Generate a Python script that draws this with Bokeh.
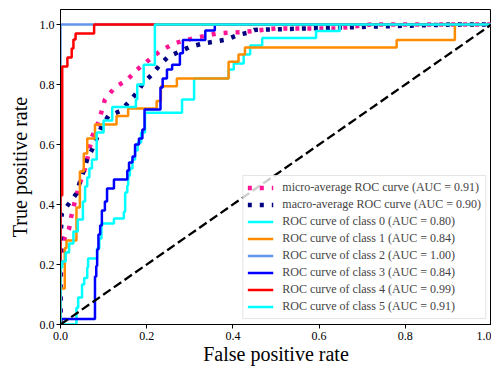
import math
from bokeh.plotting import figure
from bokeh.models import Range1d, FixedTicker, Legend, LegendItem, PrintfTickFormatter
from bokeh.embed import file_html
from bokeh.resources import INLINE

FONT = "Liberation Serif"

# ---- data ----
tick_values = [0.0, 0.2, 0.4, 0.6, 0.8, 1.0]

micro_fpr = [0, 0, 0.004, 0.01, 0.02, 0.025, 0.035, 0.046, 0.057, 0.065, 0.073, 0.089, 0.103,
             0.126, 0.155, 0.178, 0.2, 0.23, 0.263, 0.308, 0.363, 0.432, 0.5, 0.64, 0.72, 1.0]
micro_tpr = [0, 0.13, 0.25, 0.29, 0.32, 0.36, 0.42, 0.475, 0.52, 0.57, 0.625, 0.678, 0.75,
             0.79, 0.816, 0.85, 0.876, 0.91, 0.937, 0.954, 0.97, 0.976, 0.987, 0.987, 1.0, 1.0]

macro_fpr = [0, 0, 0.003, 0.018, 0.037, 0.045, 0.053, 0.062, 0.074, 0.096, 0.111, 0.138, 0.157,
             0.177, 0.192, 0.212, 0.231, 0.25, 0.277, 0.301, 0.332, 0.386, 0.413, 0.436, 0.45,
             0.65, 0.91, 1.0]
macro_tpr = [0, 0.28, 0.37, 0.40, 0.436, 0.475, 0.508, 0.552, 0.585, 0.662, 0.695, 0.711, 0.739,
             0.772, 0.805, 0.833, 0.866, 0.893, 0.91, 0.926, 0.937, 0.95, 0.966, 0.973, 0.982,
             0.99, 1.0, 1.0]

# class curves as step breakpoints: at fpr x the tpr rises to y
class0_x = [0.037, 0.041, 0.05, 0.055, 0.062, 0.064, 0.085, 0.09, 0.095, 0.124, 0.147, 0.15,
            0.155, 0.157, 0.161, 0.167, 0.173, 0.179, 0.187, 0.196, 0.282, 0.31, 0.39, 0.402,
            0.425, 0.44, 0.468, 0.593, 0.648]
class0_y = [0.056, 0.09, 0.133, 0.155, 0.19, 0.22, 0.254, 0.287, 0.337, 0.353, 0.376, 0.44,
            0.463, 0.496, 0.52, 0.55, 0.58, 0.607, 0.64, 0.706, 0.75, 0.82, 0.85, 0.87,
            0.90, 0.93, 0.955, 0.978, 1.0]

class1_x = [0, 0.01, 0.014, 0.037, 0.045, 0.054, 0.062, 0.08, 0.13, 0.157, 0.223, 0.233,
            0.27, 0.39, 0.413, 0.428, 0.78, 0.915]
class1_y = [0.12, 0.255, 0.28, 0.39, 0.51, 0.57, 0.62, 0.667, 0.695, 0.72, 0.745, 0.794,
            0.82, 0.876, 0.90, 0.923, 0.948, 1.0]

class2_x = [0]
class2_y = [1.0]

class3_x = [0, 0.08, 0.083, 0.085, 0.088, 0.092, 0.096, 0.103, 0.108, 0.124, 0.155, 0.159,
            0.167, 0.173, 0.182, 0.19, 0.195, 0.232, 0.237, 0.247, 0.259, 0.277, 0.284,
            0.336, 0.358]
class3_y = [0.018, 0.16, 0.195, 0.25, 0.30, 0.33, 0.38, 0.41, 0.453, 0.483, 0.513, 0.54,
            0.56, 0.6, 0.62, 0.65, 0.717, 0.79, 0.82, 0.85, 0.866, 0.904, 0.948,
            0.98, 1.0]

class4_x = [0, 0.004, 0.016, 0.026, 0.03, 0.035, 0.078]
class4_y = [0.43, 0.86, 0.89, 0.92, 0.95, 0.97, 1.0]

class5_x = [0, 0.004, 0.012, 0.02, 0.03, 0.04, 0.052, 0.057, 0.062, 0.067, 0.073, 0.084,
            0.1, 0.12, 0.175, 0.178, 0.193, 0.219]
class5_y = [0.19, 0.21, 0.24, 0.27, 0.31, 0.35, 0.41, 0.46, 0.49, 0.52, 0.55, 0.64,
            0.68, 0.725, 0.75, 0.80, 0.866, 1.0]

class_auc = [0.80, 0.84, 1.00, 0.84, 0.99, 0.91]
micro_auc = 0.91
macro_auc = 0.90
class_colors = ["#00ffff", "#ff8c00", "#6495ed", "#0000ff", "#ff0000", "#00ffff"]


def steps(xs, ys):
    fx, fy = [0.0], [0.0]
    for x, y in zip(xs, ys):
        fx += [x, x]
        fy += [fy[-1], y]
    fx.append(1.0)
    fy.append(fy[-1])
    return fx, fy


p = figure(width=491, height=367, x_range=Range1d(0, 1), y_range=Range1d(0, 1.05),
           output_backend="svg", toolbar_location=None,
           min_border_left=60, min_border_right=0, min_border_top=9, min_border_bottom=40)
p.background_fill_color = "white"
p.border_fill_color = "white"
p.outline_line_color = "black"
p.outline_line_width = 1
p.grid.visible = False

for ax in (p.xaxis, p.yaxis):
    ax.ticker = FixedTicker(ticks=tick_values)
    ax.formatter = PrintfTickFormatter(format="%.1f")
    ax.major_label_text_font = FONT
    ax.major_label_text_font_size = "12px"
    ax.major_label_text_color = "black"
    ax.axis_line_color = "black"
    ax.major_tick_line_color = "black"
    ax.major_tick_in = 0
    ax.major_tick_out = 4
    ax.minor_tick_line_color = None
    ax.axis_label_text_font = FONT
    ax.axis_label_text_font_size = "20px"
    ax.axis_label_text_font_style = "normal"
    ax.axis_label_text_color = "black"
p.yaxis.major_label_standoff = 2
p.xaxis.major_label_standoff = 3
p.xaxis.axis_label = "False positive rate"
p.yaxis.axis_label = "True positive rate"
p.xaxis.axis_label_standoff = 0
p.yaxis.axis_label_standoff = 6

r_micro = p.line(micro_fpr, micro_tpr, line_color="#ff1493", line_width=4.5, line_dash="4 8")
r_macro = p.line(macro_fpr, macro_tpr, line_color="#000080", line_width=4.5, line_dash="4 8")

curves = [(class0_x, class0_y), (class1_x, class1_y), (class2_x, class2_y),
          (class3_x, class3_y), (class4_x, class4_y), (class5_x, class5_y)]
class_renderers = []
for (cx, cy), col in zip(curves, class_colors):
    fx, fy = steps(cx, cy)
    class_renderers.append(p.line(fx, fy, line_color=col, line_width=2.5))

p.line([0, 1], [0, 1], line_color="black", line_width=2.3, line_dash="9 4")

items = [LegendItem(label="micro-average ROC curve (AUC = %.2f)" % micro_auc, renderers=[r_micro]),
         LegendItem(label="macro-average ROC curve (AUC = %.2f)" % macro_auc, renderers=[r_macro])]
for i, (r, auc) in enumerate(zip(class_renderers, class_auc)):
    items.append(LegendItem(label="ROC curve of class %d (AUC = %.2f)" % (i, auc), renderers=[r]))

legend = Legend(items=items, location="bottom_right", margin=5, padding=4, spacing=2,
                glyph_width=26, glyph_height=13, label_height=13, label_standoff=9,
                label_text_font=FONT, label_text_font_size="12px",
                border_line_color="#cccccc", border_line_width=1,
                background_fill_color="white", background_fill_alpha=0.8)
p.add_layout(legend)

open("out.html", "w").write(file_html(p, INLINE))
